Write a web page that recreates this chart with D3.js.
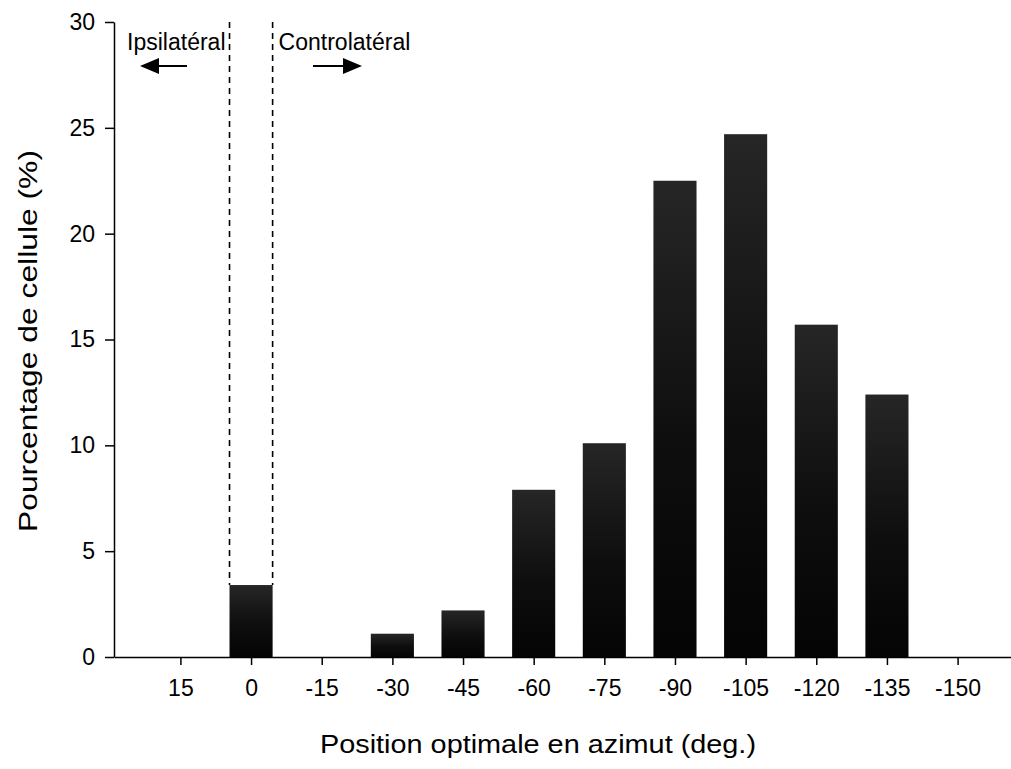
<!DOCTYPE html>
<html>
<head>
<meta charset="utf-8">
<script src="https://cdn.jsdelivr.net/npm/d3@7"></script>
<style>
  body { margin: 0; background: #fff; }
  text { font-family: "Liberation Sans", Arial, sans-serif; }
</style>
</head>
<body>
<div id="chart"></div>
<script>
// data
var categories = ["15", "0", "-15", "-30", "-45", "-60", "-75", "-90", "-105", "-120", "-135", "-150"];
var values = [0, 3.4, 0, 1.1, 2.2, 7.9, 10.1, 22.5, 24.7, 15.7, 12.4, 0];
var yTicks = [0, 5, 10, 15, 20, 25, 30];

var W = 1011, H = 769;
var plotLeft = 114, plotTop = 22, plotBottom = 657;

var svg = d3.select("#chart")
  .append("svg")
    .attr("width", W)
    .attr("height", H);

var x = d3.scalePoint()
    .domain(categories)
    .range([plotLeft, 1024])
    .padding(0.94);

var barW = x.step() * 0.61;

var y = d3.scaleLinear()
    .domain([0, 30])
    .range([plotBottom, plotTop]);

// bar shading: black with a slightly lighter grainy top
var grad = svg.append("defs").append("linearGradient")
    .attr("id", "barfill")
    .attr("x1", 0).attr("y1", 0).attr("x2", 0).attr("y2", 1);
grad.append("stop").attr("offset", "0%").attr("stop-color", "#262626");
grad.append("stop").attr("offset", "55%").attr("stop-color", "#0e0e0e");
grad.append("stop").attr("offset", "100%").attr("stop-color", "#040404");

var data = categories.map(function(c, i) { return {cat: c, val: values[i]}; });

svg.selectAll("rect.bar")
    .data(data.filter(function(d) { return d.val > 0; }))
    .enter()
    .append("rect")
      .attr("class", "bar")
      .attr("x", function(d) { return x(d.cat) - barW / 2; })
      .attr("y", function(d) { return y(d.val); })
      .attr("width", barW)
      .attr("height", function(d) { return plotBottom - y(d.val); })
      .style("fill", "url(#barfill)");

// x axis
var xAxis = svg.append("g")
    .attr("transform", "translate(0," + plotBottom + ")")
    .call(d3.axisBottom(x).tickSize(8).tickSizeOuter(0).tickPadding(15));
xAxis.selectAll("text").style("font-size", "23px").style("fill", "#000")
    .style("font-family", "'Liberation Sans', Arial, sans-serif");
xAxis.selectAll("line, path").style("stroke", "#000").style("stroke-width", 1.5);

// y axis
var yAxis = svg.append("g")
    .attr("transform", "translate(" + plotLeft + ",0)")
    .call(d3.axisLeft(y).tickValues(yTicks).tickSize(9).tickSizeOuter(0).tickPadding(10));
yAxis.selectAll("text").style("font-size", "23px").style("fill", "#000")
    .style("font-family", "'Liberation Sans', Arial, sans-serif");
yAxis.selectAll("line, path").style("stroke", "#000").style("stroke-width", 1.5);

// dashed lines around the 0 deg bar
var zeroVal = values[categories.indexOf("0")];
var xl = x("0") - barW / 2, xr = x("0") + barW / 2;
[xl, xr].forEach(function(px) {
  svg.append("line")
      .attr("x1", px).attr("x2", px)
      .attr("y1", y(30)).attr("y2", y(zeroVal))
      .style("stroke", "#000")
      .style("stroke-width", 1.6)
      .style("stroke-dasharray", "6,5");
});

// annotations
svg.append("text")
    .attr("x", xl - 4).attr("y", 50)
    .attr("text-anchor", "end")
    .style("font-size", "23px")
    .text("Ipsilatéral");
svg.append("text")
    .attr("x", xr + 6).attr("y", 50)
    .style("font-size", "23px")
    .text("Controlatéral");

function arrow(x0, x1, yy) {
  var dir = x1 > x0 ? 1 : -1;
  svg.append("line")
      .attr("x1", x0).attr("x2", x1 - dir * 16)
      .attr("y1", yy).attr("y2", yy)
      .style("stroke", "#000").style("stroke-width", 2);
  svg.append("path")
      .attr("d", "M" + x1 + "," + yy + " L" + (x1 - dir * 19) + "," + (yy - 8) +
                 " L" + (x1 - dir * 19) + "," + (yy + 8) + " Z")
      .style("fill", "#000");
}
arrow(187, 140, 66);
arrow(313, 362, 66);

// axis titles
svg.append("text")
    .attr("x", 538).attr("y", 753)
    .attr("text-anchor", "middle")
    .attr("textLength", 436)
    .attr("lengthAdjust", "spacingAndGlyphs")
    .style("font-size", "26px")
    .text("Position optimale en azimut (deg.)");

svg.append("text")
    .attr("transform", "translate(37,341) rotate(-90)")
    .attr("text-anchor", "middle")
    .attr("textLength", 382)
    .attr("lengthAdjust", "spacingAndGlyphs")
    .style("font-size", "26px")
    .text("Pourcentage de cellule (%)");
</script>
</body>
</html>
